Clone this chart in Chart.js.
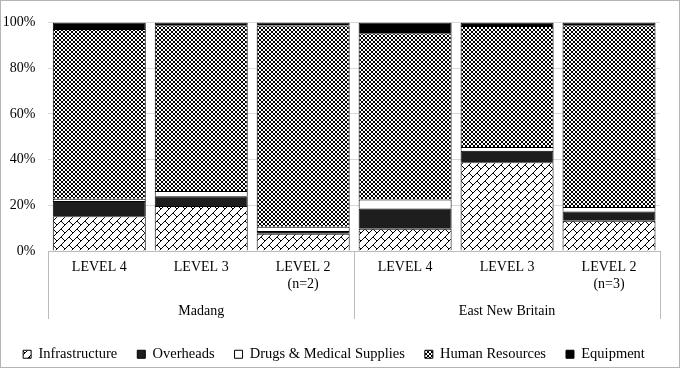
<!DOCTYPE html>
<html>
<head>
<meta charset="utf-8">
<script src="https://cdn.jsdelivr.net/npm/chart.js@4.4.0/dist/chart.umd.min.js"></script>
<style>
  html, body { margin: 0; padding: 0; background: #fff; }
  #wrap { width: 680px; height: 368px; box-sizing: border-box; border: 1px solid #b4b4b4; background: #fff; }
  canvas { display: block; }
</style>
</head>
<body>
<div id="wrap"><canvas id="c" width="678" height="366" style="width:678px;height:366px"></canvas></div>
<script>
// ---- data ----
const levelLabels = [['LEVEL 4'], ['LEVEL 3'], ['LEVEL 2', '(n=2)'], ['LEVEL 4'], ['LEVEL 3'], ['LEVEL 2', '(n=3)']];
const groupLabels = ['Madang', 'East New Britain'];
const seriesNames = ['Infrastructure', 'Overheads', 'Drugs & Medical Supplies', 'Human Resources', 'Equipment'];
const infrastructure = [15.2, 19.7, 7.5, 9.7, 38.8, 13.2];
const overheads = [6.7, 4.2, 1.3, 8.9, 5.0, 4.1];
const drugs = [1.0, 2.3, 1.8, 3.9, 1.7, 2.0];
const humanResources = [74.2, 72.5, 88.0, 72.7, 52.9, 79.4];
const equipment = [2.9, 1.3, 1.4, 4.8, 1.6, 1.3];
const yTicks = [0, 20, 40, 60, 80, 100];

// ---- patterns ----
function makePattern(rows, fg, bg) {
  const c = document.createElement('canvas');
  c.width = rows[0].length; c.height = rows.length;
  const g = c.getContext('2d');
  g.fillStyle = bg; g.fillRect(0, 0, c.width, c.height);
  g.fillStyle = fg;
  rows.forEach((r, y) => { for (let x = 0; x < r.length; x++) if (r[x] === '1') g.fillRect(x, y, 1, 1); });
  return document.createElement('canvas').getContext('2d').createPattern(c, 'repeat');
}
const brick = makePattern(['00000001','00000010','00000100','00001000','00011000','00100100','01000010','10000001'], '#000', '#fff');
const checker = makePattern(['1100','1100','0011','0011'], '#000', '#fff');

const fills = [brick, '#1e1e1e', '#ffffff', checker, '#000000'];
const values = [infrastructure, overheads, drugs, humanResources, equipment];

const SERIF = '"Liberation Serif", "Times New Roman", serif';
Chart.defaults.font.family = SERIF;
Chart.defaults.font.size = 14;
Chart.defaults.color = '#000';
const f = (s) => ({ family: SERIF, size: s || 14 });

const groupLines = {
  id: 'groupLines',
  afterDraw(chart) {
    const x = chart.scales.x;
    const ctx = chart.ctx;
    const mid = (x.getPixelForValue(2) + x.getPixelForValue(3)) / 2;
    const bottom = 318;
    ctx.save();
    ctx.strokeStyle = '#bcbcbc';
    ctx.lineWidth = 1;
    ctx.beginPath();
    ctx.moveTo(x.left, x.top + 0.5); ctx.lineTo(x.right, x.top + 0.5);
    [x.left, mid, x.right].forEach(px => {
      const p = Math.round(px) + 0.5;
      ctx.moveTo(p, x.top); ctx.lineTo(p, bottom);
    });
    ctx.stroke();
    ctx.restore();
  }
};

const legendFit = {
  id: 'legendFit',
  beforeInit(chart) {
    const orig = chart.legend.fit;
    chart.legend.fit = function () { this.maxWidth = 720; orig.call(this); this.height = 40; };
  },
  afterLayout(chart) {
    const lg = chart.legend;
    lg.left = -6; lg.right = chart.width - 6; lg.width = chart.width;
  }
};

new Chart(document.getElementById('c'), {
  type: 'bar',
  data: {
    labels: levelLabels,
    datasets: seriesNames.map((n, i) => ({
      label: n,
      data: values[i],
      backgroundColor: fills[i],
      borderColor: '#000',
      borderWidth: 1,
      barPercentage: 0.912,
      categoryPercentage: 1.0
    }))
  },
  options: {
    responsive: false,
    animation: false,
    devicePixelRatio: 1,
    layout: { padding: { top: 19.7, right: 19, left: 0, bottom: 0 } },
    scales: {
      x: {
        stacked: true,
        grid: { display: false, drawTicks: false },
        border: { display: false },
        ticks: { font: f(), color: '#000', padding: 8, maxRotation: 0, autoSkip: false },
        afterFit(s) { s.height = 46; }
      },
      x2: {
        type: 'category',
        labels: groupLabels,
        position: 'bottom',
        offset: true,
        grid: { display: false, drawTicks: false },
        border: { display: false },
        ticks: { font: f(), color: '#000', padding: 6, maxRotation: 0 },
        afterFit(s) { s.height = 30; }
      },
      y: {
        stacked: true,
        min: 0, max: 100,
        afterBuildTicks(s) { s.ticks = yTicks.map(v => ({ value: v })); },
        grid: { color: '#d9d9d9', drawTicks: false },
        border: { display: false },
        ticks: { font: f(), color: '#000', padding: 13, callback: v => v + '%' },
        afterFit(s) { s.width = 47.3; }
      }
    },
    plugins: {
      legend: {
        position: 'bottom',
        labels: { font: f(14.5), color: '#000', boxWidth: 8, boxHeight: 8, padding: 20 }
      },
      tooltip: { enabled: false }
    }
  },
  plugins: [groupLines, legendFit]
});
</script>
</body>
</html>
